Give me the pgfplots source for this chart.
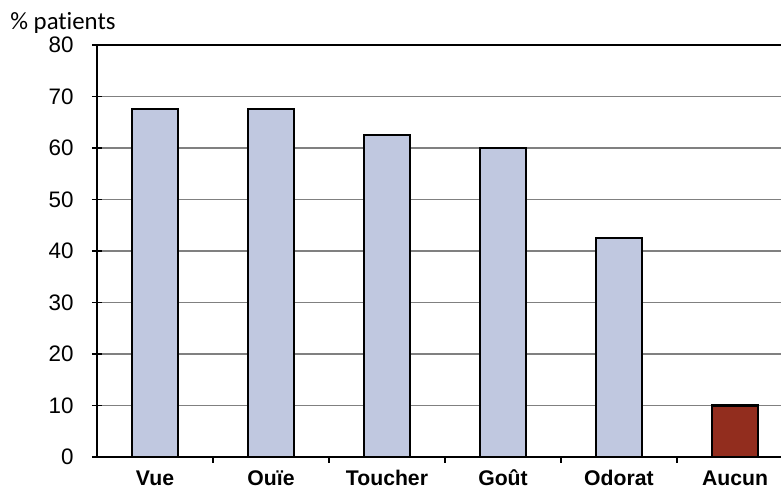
\documentclass[border=0pt]{standalone}
\usepackage{pgfplots}
\pgfplotsset{compat=1.18}
\usepackage{fontspec}
\setmainfont{Liberation Sans}
\newfontfamily\calfont[Ligatures=NoCommon]{Carlito}
\definecolor{barlight}{RGB}{192,200,224}
\definecolor{barred}{RGB}{146,45,30}
\definecolor{gridgray}{RGB}{128,128,128}
\begin{document}
\begin{tikzpicture}
\path[use as bounding box] (-48.5pt,-16.5pt) rectangle (342pt,228.5pt);
\begin{axis}[
  at={(0,0)}, anchor=south west,
  scale only axis,
  width=348pt, height=206pt,
  xmin=-0.5, xmax=5.5,
  ymin=0, ymax=80,
  ytick={0,10,...,80},
  xtick={0,...,5},
  xticklabels={Vue,Ouïe,Toucher,Goût,Odorat,Aucun},
  xtick pos=bottom, ytick pos=left,
  xtick style={draw=none},
  extra x ticks={0.5,1.5,2.5,3.5,4.5},
  extra x tick labels={},
  extra x tick style={xtick style={draw=black, line width=0.6pt}, major tick length=3pt, tick align=outside},
  ytick style={draw=black, line width=0.6pt},
  major tick length=5pt,
  tick align=center,
  ymajorgrids,
  grid style={gridgray, line width=0.6pt},
  axis line style={black, line width=1pt},
  /pgf/number format/assume math mode=true,
  yticklabel style={font=\fontsize{11.2}{13}\selectfont, inner sep=0pt, anchor=east, xshift=-9pt},
  xticklabel style={font=\fontsize{10.6}{12}\selectfont\bfseries, inner sep=0pt, anchor=base, yshift=-9.5pt},
  ylabel={\% patients},
  ylabel style={rotate=-90, anchor=base west, inner sep=0pt, at={(axis description cs:0,1)}, xshift=-43.5pt, yshift=7.5pt, font=\calfont\fontsize{12.4}{14}\selectfont},
  bar width=0.4,
  ybar, bar shift=0pt,
]
\addplot[fill=barlight, draw=black, line width=1.1pt] coordinates {(0,67.5) (1,67.5) (2,62.5) (3,60) (4,42.5)};
\addplot[fill=barred, draw=black, line width=1.1pt] coordinates {(5,10)};
\end{axis}
\end{tikzpicture}
\end{document}
